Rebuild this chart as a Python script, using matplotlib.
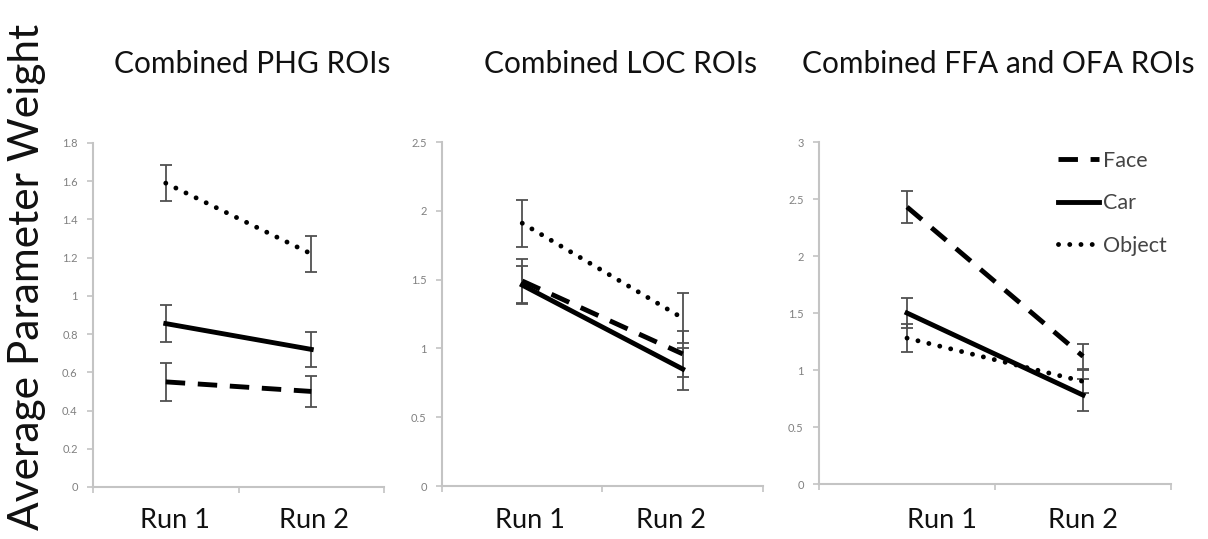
import numpy as np
import matplotlib.pyplot as plt
from matplotlib.ticker import FuncFormatter

plt.rcParams['font.family'] = ['Lato', 'DejaVu Sans']

# Data (Run 1, Run 2)
runs = ["Run 1", "Run 2"]
conditions = ["Face", "Car", "Object"]
titles = ["Combined PHG ROIs", "Combined LOC ROIs", "Combined FFA and OFA ROIs"]

phg_face = [0.55, 0.50]
phg_car = [0.855, 0.72]
phg_object = [1.59, 1.22]
phg_face_err = [0.10, 0.08]
phg_car_err = [0.095, 0.09]
phg_object_err = [0.095, 0.095]

loc_face = [1.49, 0.96]
loc_car = [1.46, 0.85]
loc_object = [1.91, 1.22]
loc_face_err = [0.16, 0.17]
loc_car_err = [0.14, 0.15]
loc_object_err = [0.17, 0.18]

ffa_face = [2.43, 1.12]
ffa_car = [1.50, 0.78]
ffa_object = [1.28, 0.90]
ffa_face_err = [0.14, 0.11]
ffa_car_err = [0.13, 0.14]
ffa_object_err = [0.12, 0.10]

y_max = [1.8, 2.5, 3.0]
y_step = [0.2, 0.5, 0.5]


def main():
    fig = plt.figure(figsize=(12.08, 5.39), dpi=100)

    # axes boxes in figure fractions
    boxes = [[0.077, 0.0965, 0.2409, 0.6382],
             [0.3659, 0.0983, 0.2657, 0.6382],
             [0.678, 0.102, 0.2914, 0.6345]]

    panels = [
        [(phg_face, phg_face_err), (phg_car, phg_car_err), (phg_object, phg_object_err)],
        [(loc_face, loc_face_err), (loc_car, loc_car_err), (loc_object, loc_object_err)],
        [(ffa_face, ffa_face_err), (ffa_car, ffa_car_err), (ffa_object, ffa_object_err)],
    ]

    styles = {
        "Face": dict(linestyle=(0, (4.0, 2.6)), dash_capstyle='butt'),
        "Car": dict(linestyle='-'),
        "Object": dict(linestyle=(0, (0.01, 2.3)), dash_capstyle='round'),
    }

    x = np.arange(len(runs))
    axes = []
    for i, box in enumerate(boxes):
        ax = fig.add_axes(box)
        axes.append(ax)
        for name, (vals, errs) in zip(conditions, panels[i]):
            ax.errorbar(x, vals, yerr=errs, fmt='none', ecolor='#505050',
                        elinewidth=1.3, capsize=4, capthick=1.3, zorder=2)
            ax.plot(x, vals, color='black', lw=3.5, label=name, zorder=3,
                    **styles[name])

        ax.set_xlim(-0.5, 1.5)
        ax.set_ylim(0, y_max[i])
        ax.set_yticks(np.arange(0, y_max[i] + 1e-9, y_step[i]))
        ax.yaxis.set_major_formatter(FuncFormatter(lambda v, p: f"{v:g}"))
        ax.set_xticks([-0.5, 0.5, 1.5])
        ax.set_xticklabels([])
        for side in ['top', 'right']:
            ax.spines[side].set_visible(False)
        for side in ['left', 'bottom']:
            ax.spines[side].set_color('#c4c4c4')
            ax.spines[side].set_linewidth(1.5)
        ax.tick_params(axis='both', colors='#c4c4c4', width=1.2, length=4,
                       labelcolor='#808080', labelsize=8)
        ax.tick_params(axis='y', pad=7)

    # legend in the last panel
    axes[2].legend(loc='upper left', bbox_to_anchor=(0.68, 0.975), frameon=False,
                   fontsize=15.5, handlelength=1.9, handletextpad=0.15,
                   labelspacing=1.05, borderpad=0, borderaxespad=0,
                   labelcolor='#444444')

    # panel titles
    title_x = [252 / 1208, 621 / 1208, 998 / 1208]
    for tx, t in zip(title_x, titles):
        fig.text(tx, 1 - 64 / 539, t, ha='center', va='center', fontsize=21.5,
                 color='#111111')

    # category labels under each panel
    run_x = [[175, 314], [530, 671], [942, 1083]]
    for xs in run_x:
        for px, lab in zip(xs, runs):
            fig.text(px / 1208, 1 - 521 / 539, lab, ha='center', va='center',
                     fontsize=19.5, color='#111111')

    fig.text(27 / 1208, 1 - 277 / 539, "Average Parameter Weight", rotation=90,
             ha='center', va='center', fontsize=30.5, color='#111111')

    fig.savefig("out.png", dpi=100)


if __name__ == "__main__":
    main()
